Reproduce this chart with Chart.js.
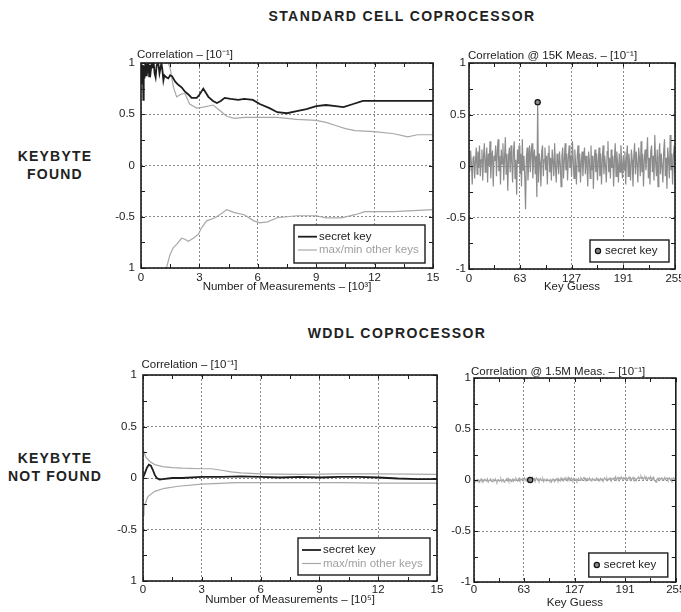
<!DOCTYPE html>
<html>
<head>
<meta charset="utf-8">
<script src="https://cdn.jsdelivr.net/npm/chart.js@4.4.0/dist/chart.umd.min.js"></script>
<style>
  body { margin: 0; background: #fff; width: 681px; height: 612px; position: relative; overflow: hidden; font-family: "Liberation Sans", Arial, sans-serif; }
  canvas { position: absolute; }
  .head { position: absolute; font-weight: bold; font-size: 14px; letter-spacing: 1.4px; color: #222; white-space: nowrap; transform: translateX(-50%); }
  .side { position: absolute; font-weight: bold; font-size: 14px; letter-spacing: 1.2px; color: #222; text-align: center; line-height: 18px; white-space: nowrap; transform: translateX(-50%); }
</style>
</head>
<body>
<div class="head" style="left:402px; top:8px">STANDARD CELL COPROCESSOR</div>
<div class="head" style="left:397px; top:325px">WDDL COPROCESSOR</div>
<div class="side" style="left:55px; top:147px">KEYBYTE<br>FOUND</div>
<div class="side" style="left:55px; top:449px">KEYBYTE<br>NOT FOUND</div>

<canvas id="stdTrace" width="346" height="262" style="left:100px; top:40px"></canvas>
<canvas id="stdKeys" width="245" height="263" style="left:436px; top:40px"></canvas>
<canvas id="wddlTrace" width="350" height="260" style="left:100px; top:352px"></canvas>
<canvas id="wddlKeys" width="241" height="257" style="left:440px; top:355px"></canvas>

<script>
// ticks
const corrTicks = [-1, -0.5, 0, 0.5, 1];
const corrLabelsLeft = ['1', '-0.5', '0', '0.5', '1'];
const corrLabelsRight = ['-1', '-0.5', '0', '0.5', '1'];
const measTicks = [0, 3, 6, 9, 12, 15];
const measLabels = ['0', '3', '6', '9', '12', '15'];
const keyTicks = [0, 63, 127, 191, 255];
const keyLabels = ['0', '63', '127', '191', '255'];

// standard cell: correlation vs number of measurements (x 10^3)
const stdSecretMeas = [0.02, 0.06, 0.1, 0.12, 0.14, 0.18, 0.22, 0.26, 0.3, 0.34, 0.38, 0.42, 0.46, 0.5, 0.55, 0.6, 0.65, 0.7, 0.75, 0.8, 0.85, 0.9, 0.95, 1.0, 1.05, 1.1, 1.15, 1.2, 1.3, 1.4, 1.5,
  1.6, 1.75, 1.9, 2.1, 2.26, 2.45, 2.6, 2.86, 3.0, 3.2, 3.46, 3.7, 3.9, 4.1, 4.3, 4.6, 5.0, 5.3, 5.75, 6.1, 6.6, 7.0, 7.5, 8.0, 8.5, 9.0, 9.5, 10.0, 10.4, 10.9, 11.4, 12, 13, 14, 15];
const stdSecretCorr = [1.0, 0.8, 0.98, 0.64, 0.97, 0.85, 1.0, 0.88, 0.99, 0.9, 1.0, 0.87, 0.98, 0.92, 1.0, 0.97, 1.0, 0.9, 0.86, 0.97, 1.0, 0.98, 0.9, 0.95, 1.0, 0.93, 0.83, 0.88, 0.86, 0.85, 0.88,
  0.87, 0.82, 0.79, 0.76, 0.72, 0.69, 0.66, 0.66, 0.69, 0.75, 0.67, 0.63, 0.61, 0.63, 0.66, 0.65, 0.64, 0.65, 0.64, 0.6, 0.56, 0.52, 0.51, 0.53, 0.55, 0.58, 0.59, 0.58, 0.57, 0.6, 0.63, 0.63, 0.63, 0.63, 0.63];
const stdMaxMeas = [1.35, 1.5, 1.66, 1.83, 2.1, 2.26, 2.5, 2.86, 3.2, 3.7, 4.1, 4.4, 4.8, 5.3, 6.0, 7.0, 8.0, 9.0, 9.5, 10.0, 10.5, 11, 12, 13, 13.7, 14.2, 15];
const stdMaxCorr = [1.02, 0.95, 0.77, 0.67, 0.7, 0.7, 0.6, 0.56, 0.57, 0.59, 0.53, 0.48, 0.46, 0.47, 0.47, 0.47, 0.45, 0.44, 0.42, 0.39, 0.36, 0.34, 0.33, 0.31, 0.28, 0.3, 0.3];
const stdMinMeas = [1.25, 1.32, 1.49, 1.66, 1.83, 2.09, 2.26, 2.43, 2.69, 2.95, 3.1, 3.37, 3.8, 4.2, 4.4, 4.8, 5.3, 5.8, 6.1, 6.5, 7.0, 8.0, 9.0, 9.5, 10.3, 11, 11.5, 13, 15];
const stdMinCorr = [-1.02, -0.99, -0.87, -0.8, -0.77, -0.71, -0.72, -0.74, -0.71, -0.67, -0.61, -0.54, -0.51, -0.46, -0.43, -0.46, -0.48, -0.54, -0.56, -0.55, -0.51, -0.49, -0.49, -0.51, -0.51, -0.48, -0.45, -0.45, -0.43];

// WDDL: correlation vs number of measurements (x 10^5)
const wddlSecretMeas = [0, 0.1, 0.2, 0.3, 0.4, 0.5, 0.6, 0.7, 0.85, 1.0, 1.5, 2, 3, 4, 5, 6, 7, 8, 9, 10, 11, 12, 13, 14, 15];
const wddlSecretCorr = [0.0, 0.05, 0.1, 0.13, 0.12, 0.08, 0.03, 0.0, -0.015, -0.01, 0.0, 0.0, 0.01, 0.01, 0.015, 0.01, 0.005, 0.01, 0.005, 0.01, 0.01, 0.005, -0.005, -0.01, -0.01];
const wddlMaxMeas = [0, 0.15, 0.35, 0.6, 1.0, 1.5, 2, 3, 3.5, 4, 4.5, 5, 6, 8, 10, 12, 15];
const wddlMaxCorr = [0.28, 0.2, 0.16, 0.13, 0.11, 0.1, 0.095, 0.09, 0.09, 0.075, 0.06, 0.05, 0.04, 0.035, 0.04, 0.04, 0.035];
const wddlMinMeas = [0, 0.05, 0.25, 0.6, 1.1, 1.8, 3, 4.8, 7.4, 10, 12, 15];
const wddlMinCorr = [-0.36, -0.28, -0.18, -0.13, -0.1, -0.08, -0.06, -0.045, -0.045, -0.045, -0.05, -0.05];

// correlation per key guess
const keyGuesses = Array.from({ length: 256 }, (_, i) => i);
const stdKeyCorr = [
  0.12, -0.05, 0.15, 0.02, -0.18, 0.08, 0.1, -0.12, 0.05, 0.18, -0.08, 0.14, -0.02, 0.2, -0.1, 0.06,
  0.16, -0.14, 0.1, 0.22, -0.06, 0.04, 0.18, -0.16, 0.12, 0.0, 0.24, -0.12, 0.08, 0.15, -0.2, 0.1,
  0.05, 0.2, -0.1, 0.14, 0.26, -0.05, 0.1, -0.18, 0.16, 0.02, 0.22, -0.14, 0.08, 0.28, -0.08, 0.12,
  -0.24, 0.1, 0.18, -0.06, 0.2, 0.04, -0.16, 0.14, 0.24, -0.12, 0.06, -0.28, 0.16, 0.02, 0.2, -0.08,
  0.12, -0.2, 0.26, -0.04, 0.1, -0.1, -0.42, 0.08, 0.18, -0.14, 0.04, 0.2, -0.06, 0.14, 0.22, -0.12,
  0.08, 0.16, -0.08, 0.1, -0.3, 0.62, -0.16, 0.12, 0.04, -0.2, 0.14, 0.2, -0.1, 0.06, 0.18, -0.04,
  0.1, -0.18, 0.12, 0.2, -0.06, 0.08, -0.14, 0.16, 0.04, -0.1, 0.22, 0.0, -0.16, 0.12, 0.06, -0.08,
  0.14, 0.02, -0.2, 0.1, 0.18, -0.12, 0.06, 0.22, -0.04, 0.12, -0.14, 0.08, 0.2, -0.02, 0.1, -0.1,
  0.24, 0.06, -0.12, 0.16, 0.02, -0.18, 0.1, 0.2, -0.06, 0.12, -0.16, 0.04, 0.14, -0.1, 0.08, 0.18,
  -0.08, 0.1, 0.0, -0.2, 0.14, 0.06, -0.12, 0.2, -0.04, 0.1, -0.22, 0.08, 0.16, -0.06, 0.12, -0.14,
  0.04, 0.18, -0.1, 0.12, -0.18, 0.06, 0.2, -0.08, 0.1, 0.0, -0.16, 0.14, 0.24, -0.06, 0.08, -0.12,
  0.16, -0.02, 0.1, -0.2, 0.06, 0.22, -0.1, 0.14, 0.02, -0.16, 0.12, -0.06, 0.2, 0.04, -0.12, 0.1,
  -0.04, 0.14, -0.18, 0.08, 0.2, -0.1, 0.12, 0.0, -0.14, 0.16, 0.06, -0.2, 0.1, 0.22, -0.08, 0.14,
  0.02, -0.16, 0.18, 0.08, -0.1, 0.24, -0.06, 0.12, -0.2, 0.06, 0.16, -0.04, 0.1, 0.28, -0.12, 0.08,
  -0.18, 0.14, 0.2, -0.06, 0.1, -0.14, 0.3, 0.04, -0.1, 0.16, -0.2, 0.08, 0.22, -0.08, 0.12, 0.0,
  -0.16, 0.14, 0.26, -0.1, 0.08, -0.22, 0.18, 0.06, -0.12, 0.3, -0.04, 0.12, -0.18, 0.1, 0.2, -0.06
];
const wddlKeyCorr = [
  -0.01, 0.0, -0.015, -0.005, 0.005, -0.01, 0.0, -0.02, -0.005, 0.01, -0.01, 0.0, -0.015, 0.005, -0.005, 0.0,
  -0.01, 0.01, -0.02, -0.005, 0.0, 0.01, -0.01, -0.015, 0.005, 0.0, -0.01, 0.01, -0.005, -0.02, 0.0, 0.005,
  -0.01, -0.005, 0.01, -0.015, 0.0, 0.005, -0.02, -0.01, 0.0, 0.01, -0.005, 0.015, -0.01, 0.0, 0.005, -0.015,
  0.0, 0.01, -0.01, 0.005, -0.005, 0.015, 0.0, -0.01, 0.01, 0.02, -0.005, 0.005, 0.0, 0.015, -0.01, 0.01,
  0.02, 0.005, -0.01, 0.015, 0.01, 0.0, 0.02, 0.0, -0.005, 0.01, 0.025, 0.005, 0.015, -0.005, 0.01, 0.02,
  0.0, 0.01, -0.01, 0.005, 0.015, -0.005, 0.0, 0.01, -0.015, 0.005, 0.0, -0.01, 0.01, 0.005, -0.005, 0.0,
  -0.01, 0.005, -0.02, 0.0, 0.01, -0.005, -0.015, 0.005, 0.0, 0.015, -0.005, 0.01, 0.0, -0.01, 0.02, 0.005,
  0.01, -0.005, 0.015, 0.0, 0.02, 0.01, -0.005, 0.025, 0.005, 0.015, 0.0, 0.02, 0.01, -0.005, 0.015, 0.005,
  0.0, 0.01, -0.01, 0.005, 0.015, 0.0, -0.005, 0.02, 0.01, 0.0, 0.015, 0.025, 0.005, 0.01, -0.005, 0.015,
  0.01, 0.0, 0.02, 0.005, -0.01, 0.01, 0.015, 0.0, 0.005, -0.005, 0.01, 0.02, 0.0, 0.01, -0.01, 0.005,
  0.015, 0.0, 0.01, -0.005, 0.005, 0.02, 0.01, 0.0, 0.015, -0.005, 0.01, 0.005, 0.02, 0.0, 0.01, 0.015,
  0.005, 0.02, 0.01, 0.03, 0.0, 0.015, 0.025, 0.005, 0.02, 0.01, 0.03, 0.015, 0.0, 0.02, 0.01, 0.025,
  0.01, 0.02, 0.005, 0.015, 0.03, 0.01, 0.02, 0.0, 0.015, 0.025, 0.005, 0.02, 0.01, -0.005, 0.015, 0.02,
  0.03, 0.01, 0.02, 0.035, 0.015, 0.025, 0.005, 0.02, 0.03, 0.01, 0.025, 0.0, 0.015, 0.02, 0.01, 0.03,
  0.005, 0.02, 0.01, 0.025, 0.0, -0.01, -0.02, 0.005, 0.015, 0.0, 0.02, 0.01, 0.005, 0.02, 0.015, 0.0,
  0.01, 0.025, 0.005, 0.015, 0.02, 0.0, 0.01, 0.02, 0.005, 0.015, -0.005, 0.01, 0.02, 0.005, 0.015, 0.0
];
const stdSecretKey = 85, stdSecretKeyCorr = 0.62;
const wddlSecretKey = 71, wddlSecretKeyCorr = 0.0;

const FONT = '"Liberation Sans", Arial, sans-serif';
const INK = '#1c1c1c';

function pairs(xs, ys) {
  return xs.map((x, i) => ({ x: x, y: ys[i] }));
}

// box, inward ticks, caption over the axes and legend inside the axes
const framePlugin = {
  id: 'frame',
  afterDatasetsDraw(chart, args, opts) {
    const { ctx, chartArea: a } = chart;
    const xs = chart.scales.x, ys = chart.scales.y;
    ctx.save();
    ctx.strokeStyle = INK;
    ctx.lineWidth = 1;
    const withMinor = vals => {
      const out = vals.slice();
      for (let i = 0; i < vals.length - 1; i++) out.push((vals[i] + vals[i + 1]) / 2);
      return out;
    };
    ctx.beginPath();
    withMinor(opts.xTicks).forEach(v => {
      const p = Math.round(xs.getPixelForValue(v)) + 0.5;
      ctx.moveTo(p, a.bottom); ctx.lineTo(p, a.bottom - 4);
      ctx.moveTo(p, a.top); ctx.lineTo(p, a.top + 4);
    });
    withMinor(corrTicks).forEach(v => {
      const p = Math.round(ys.getPixelForValue(v)) + 0.5;
      ctx.moveTo(a.left, p); ctx.lineTo(a.left + 4, p);
      ctx.moveTo(a.right, p); ctx.lineTo(a.right - 4, p);
    });
    ctx.stroke();

    ctx.lineWidth = 1.6;
    ctx.strokeRect(a.left, a.top, a.right - a.left, a.bottom - a.top);

    ctx.fillStyle = INK;
    ctx.font = '11.5px ' + FONT;
    ctx.textAlign = 'left';
    ctx.textBaseline = 'alphabetic';
    ctx.fillText(opts.caption, a.left + opts.capDx, a.top + opts.capDy);

    const lg = opts.legend;
    const bx = a.right - lg.right - lg.w, by = a.bottom - lg.bottom - lg.h;
    ctx.fillStyle = '#fff';
    ctx.fillRect(bx, by, lg.w, lg.h);
    ctx.lineWidth = 1.4;
    ctx.strokeStyle = INK;
    ctx.strokeRect(bx, by, lg.w, lg.h);
    ctx.textBaseline = 'middle';
    let row = 0;
    chart.data.datasets.forEach(ds => {
      if (!ds.label) return;
      const cy = by + lg.first + row * lg.rowH;
      if (ds.showLine === false) {
        ctx.beginPath();
        ctx.arc(bx + 8, cy, 2.6, 0, Math.PI * 2);
        ctx.fillStyle = ds.pointBackgroundColor;
        ctx.fill();
        ctx.lineWidth = 1.2;
        ctx.strokeStyle = ds.pointBorderColor;
        ctx.stroke();
      } else {
        ctx.beginPath();
        ctx.moveTo(bx + 4, cy); ctx.lineTo(bx + 23, cy);
        ctx.lineWidth = ds.borderWidth;
        ctx.strokeStyle = ds.borderColor;
        ctx.stroke();
      }
      ctx.fillStyle = ds.label === 'secret key' ? INK : '#a0a0a0';
      ctx.fillText(ds.label, bx + lg.textX, cy);
      row++;
    });
    ctx.restore();
  }
};

function makeChart(id, cfg) {
  return new Chart(document.getElementById(id), {
    type: 'line',
    data: { datasets: cfg.datasets },
    options: {
      responsive: false,
      animation: false,
      events: [],
      layout: { padding: { top: cfg.padTop, right: cfg.padRight, left: 0, bottom: 0 } },
      elements: { point: { radius: 0 }, line: { tension: 0 } },
      plugins: {
        legend: { display: false },
        tooltip: { enabled: false },
        frame: { xTicks: cfg.xTicks, caption: cfg.caption, capDx: cfg.capDx, capDy: cfg.capDy, legend: cfg.legend }
      },
      scales: {
        x: {
          type: 'linear', min: cfg.xMin, max: cfg.xMax,
          afterBuildTicks: s => { s.ticks = cfg.xTicks.map(v => ({ value: v })); },
          afterFit: s => { s.height = cfg.xHeight; s.paddingLeft = 0; s.paddingRight = 0; },
          ticks: { autoSkip: false, maxRotation: 0, padding: cfg.xPad, color: INK, font: { family: FONT, size: 11.5 },
                   callback: (v, i) => cfg.xLabels[i] },
          grid: { color: '#8a8a8a', lineWidth: 1, drawTicks: false },
          border: { display: false, dash: [2, 2] },
          title: { display: true, text: cfg.xTitle, color: INK, font: { family: FONT, size: 11.5 }, padding: { top: 0, bottom: cfg.titlePad } }
        },
        y: {
          type: 'linear', min: -1, max: 1,
          afterBuildTicks: s => { s.ticks = corrTicks.map(v => ({ value: v })); },
          afterFit: s => { s.width = cfg.yWidth; s.paddingTop = 0; s.paddingBottom = 0; },
          ticks: { autoSkip: false, padding: cfg.yPad, color: INK, font: { family: FONT, size: 11.5 },
                   callback: (v, i) => cfg.yLabels[i] },
          grid: { color: '#8a8a8a', lineWidth: 1, drawTicks: false },
          border: { display: false, dash: [2, 2] }
        }
      }
    },
    plugins: [framePlugin]
  });
}

function traceDatasets(sMeas, sCorr, maxMeas, maxCorr, minMeas, minCorr) {
  return [
    { label: 'secret key', data: pairs(sMeas, sCorr), borderColor: '#1e1e1e', borderWidth: 1.8 },
    { label: 'max/min other keys', data: pairs(maxMeas, maxCorr), borderColor: '#a8a8a8', borderWidth: 1.2 },
    { label: '', data: pairs(minMeas, minCorr), borderColor: '#a8a8a8', borderWidth: 1.2 }
  ];
}

function keyDatasets(corr, key, keyCorr, lineColor) {
  return [
    { label: 'secret key', showLine: false, data: [{ x: key, y: keyCorr }], pointRadius: 2.6,
      pointBackgroundColor: '#8a8a8a', pointBorderColor: '#111', pointBorderWidth: 1.2 },
    { label: '', data: pairs(keyGuesses, corr), borderColor: lineColor, borderWidth: 1.2 }
  ];
}

makeChart('stdTrace', {
  datasets: traceDatasets(stdSecretMeas, stdSecretCorr, stdMaxMeas, stdMaxCorr, stdMinMeas, stdMinCorr),
  xMin: 0, xMax: 15, xTicks: measTicks, xLabels: measLabels, yLabels: corrLabelsLeft,
  xTitle: 'Number of Measurements \u2013 [10\u00b3]', caption: 'Correlation \u2013 [10\u207b\u00b9]',
  padTop: 23, padRight: 13, yWidth: 41, xHeight: 34, xPad: 3, yPad: 6, titlePad: 8, capDx: -4, capDy: -5.5,
  legend: { w: 131, h: 38, right: 8, bottom: 5, first: 11.7, rowH: 13.3, textX: 25 }
});

makeChart('stdKeys', {
  datasets: keyDatasets(stdKeyCorr, stdSecretKey, stdSecretKeyCorr, '#8c8c8c'),
  xMin: 0, xMax: 255, xTicks: keyTicks, xLabels: keyLabels, yLabels: corrLabelsRight,
  xTitle: 'Key Guess', caption: 'Correlation @ 15K Meas. \u2013 [10\u207b\u00b9]',
  padTop: 23, padRight: 6, yWidth: 33, xHeight: 34, xPad: 3, yPad: 3, titlePad: 9, capDx: -1, capDy: -4,
  legend: { w: 79, h: 22, right: 6, bottom: 7, first: 11, rowH: 13, textX: 15 }
});

makeChart('wddlTrace', {
  datasets: traceDatasets(wddlSecretMeas, wddlSecretCorr, wddlMaxMeas, wddlMaxCorr, wddlMinMeas, wddlMinCorr),
  xMin: 0, xMax: 15, xTicks: measTicks, xLabels: measLabels, yLabels: corrLabelsLeft,
  xTitle: 'Number of Measurements \u2013 [10\u2075]', caption: 'Correlation \u2013 [10\u207b\u00b9]',
  padTop: 23, padRight: 13, yWidth: 43, xHeight: 31, xPad: 2, yPad: 6, titlePad: 5, capDx: -1.5, capDy: -7,
  legend: { w: 132, h: 37, right: 7, bottom: 6, first: 12, rowH: 13.5, textX: 25 }
});

makeChart('wddlKeys', {
  datasets: keyDatasets(wddlKeyCorr, wddlSecretKey, wddlSecretKeyCorr, '#a8a8a8'),
  xMin: 0, xMax: 255, xTicks: keyTicks, xLabels: keyLabels, yLabels: corrLabelsRight,
  xTitle: 'Key Guess', caption: 'Correlation @ 1.5M Meas. \u2013 [10\u207b\u00b9]',
  padTop: 23, padRight: 1, yWidth: 34, xHeight: 30, xPad: 1, yPad: 3, titlePad: 2, capDx: -3, capDy: -3,
  legend: { w: 79, h: 24, right: 8, bottom: 5, first: 12, rowH: 13, textX: 15 }
});
</script>
</body>
</html>
